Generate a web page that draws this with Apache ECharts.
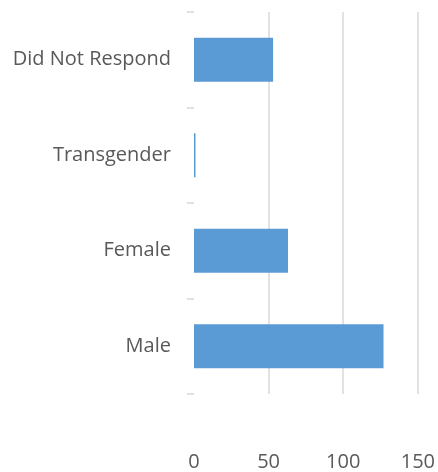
<!DOCTYPE html>
<html>
<head>
<meta charset="utf-8">
<script src="https://cdn.jsdelivr.net/npm/echarts@6/dist/echarts.min.js"></script>
<style>
html,body{margin:0;padding:0;background:#fff;}
#chart{width:438px;height:472px;}
</style>
</head>
<body>
<div id="chart"></div>
<script>
var categories = ['Male', 'Female', 'Transgender', 'Did Not Respond'];
var values = [127, 63, 1, 53];
var xTicks = [0, 50, 100, 150];

var chart = echarts.init(document.getElementById('chart'), null, {renderer: 'canvas'});
chart.setOption({
  animation: false,
  grid: {left: 194, right: 20, top: 12, bottom: 78, containLabel: false},
  xAxis: {
    type: 'value',
    min: xTicks[0],
    max: xTicks[xTicks.length - 1],
    interval: 50,
    axisLine: {show: false},
    axisTick: {show: false},
    splitLine: {show: true, showMinLine: false, lineStyle: {color: '#d9d9d9', width: 1.5}},
    axisLabel: {
      color: '#595959',
      fontFamily: 'Open Sans',
      fontSize: 20,
      margin: 58
    }
  },
  yAxis: {
    type: 'category',
    data: categories,
    axisLine: {show: false},
    axisTick: {show: true, length: 7, lineStyle: {color: '#d9d9d9', width: 1.5}},
    axisLabel: {
      color: '#595959',
      fontFamily: 'Open Sans',
      fontSize: 20,
      margin: 23
    }
  },
  series: [{
    type: 'bar',
    data: values,
    barCategoryGap: '54%',
    itemStyle: {color: '#5b9bd5'}
  }]
});
</script>
</body>
</html>
